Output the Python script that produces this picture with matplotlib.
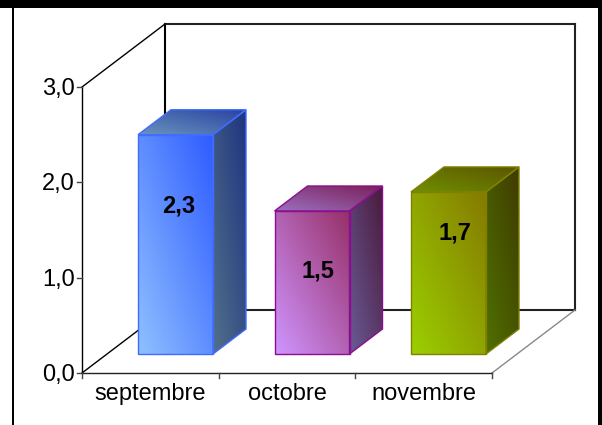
import matplotlib
matplotlib.use('Agg')
import matplotlib.pyplot as plt
from matplotlib.colors import LinearSegmentedColormap
from matplotlib.patches import Polygon
import numpy as np

plt.rcParams['font.family'] = ['Liberation Sans', 'DejaVu Sans']

mois = ['septembre', 'octobre', 'novembre']
valeurs = [2.3, 1.5, 1.7]
etiquettes = ['2,3', '1,5', '1,7']
yticks = [0, 1, 2, 3]
ylabels = ['0,0', '1,0', '2,0', '3,0']

# couleurs des faces: bas-gauche, haut-droite
face_cols = [('#8fc0ff', '#2f5cff'), ('#cf95ff', '#973068'), ('#9bd000', '#857a00')]
cote_cols = [('#52708a', '#1f3580'), ('#6a5a96', '#4a1a3c'), ('#4f7000', '#403c00')]
dessus_cols = [('#6a94bc', '#2a44a4'), ('#9a70c0', '#7c2058'), ('#6f9000', '#5c5400')]
bord_cols = ['#3f6cff', '#8a0f90', '#808000']

# echelle: pixels de la figure -> valeurs
W, H = 602, 425
px_cat = 136.5
px_val = 95.33
x0_px, y0_px = 175.5, 373
larg = 75 / px_cat
dx, dy = 33 / px_cat, 25 / px_val       # profondeur d'une barre
mx, my = 83 / px_cat, 63 / px_val       # profondeur du mur
base = 19 / px_val                      # decalage du pied des barres
gauche = -0.685
droite = gauche + 3 * 136.67 / px_cat
pas = (droite - gauche) / 3

fig = plt.figure(figsize=(W / 100, H / 100), dpi=100)
ax = fig.add_axes([0, 0, 1, 1])
ax.axis('off')


def degrade(pts, cols, edge, ax):
    xs = [p[0] for p in pts]
    ys = [p[1] for p in pts]
    cmap = LinearSegmentedColormap.from_list('c', cols)
    u, v = np.meshgrid(np.linspace(0, 1, 60), np.linspace(0, 1, 60))
    im = ax.imshow((u + v) / 2, extent=[min(xs), max(xs), min(ys), max(ys)], origin='lower',
                   cmap=cmap, vmin=0, vmax=1, aspect='auto', zorder=3)
    poly = Polygon(pts, closed=True, fc='none', ec=edge, lw=1, zorder=4)
    ax.add_patch(poly)
    im.set_clip_path(poly)


# mur et sol
ax.plot([gauche + mx, gauche + mx], [my, 3 + my], color='black', lw=1.5, zorder=1)
ax.plot([droite + mx, droite + mx], [my, 3 + my], color='#222222', lw=1.5, zorder=1)
ax.plot([gauche + mx, droite + mx], [3 + my, 3 + my], color='#222222', lw=1.5, zorder=1)
ax.plot([gauche + mx, droite + mx], [my, my], color='#222222', lw=1.5, zorder=1)
ax.plot([gauche, gauche + mx], [3, 3 + my], color='black', lw=1, zorder=1)
ax.plot([gauche, gauche + mx], [0, my], color='black', lw=1, zorder=1)
ax.plot([droite, droite + mx], [0, my], color='#888888', lw=1, zorder=1)

# axes de face
ax.plot([gauche, gauche], [0, 3], color='black', lw=1, zorder=2)
ax.plot([gauche, droite], [0, 0], color='#222222', lw=1, zorder=2)
for t, lab in zip(yticks, ylabels):
    ax.plot([gauche - 5 / px_cat, gauche], [t, t], color='#444444', lw=1, zorder=2)
    ax.text(gauche - 7 / px_cat, t - 2 / px_val, lab, ha='right', va='center', fontsize=17, color='black')
for i in range(4):
    ax.plot([gauche + i * pas] * 2, [0, -5 / px_val], color='#444444', lw=1, zorder=2)
for i, m in enumerate(mois):
    ax.text(gauche + (i + 0.5) * pas, -21 / px_val, m, ha='center', va='center', fontsize=17, color='black')

# barres
etiq_dx = [3.5, 6, 6.5]
etiq_frac = [0.675, 0.58, 0.745]
for i, v in enumerate(valeurs):
    x1, x2 = i - larg / 2, i + larg / 2
    y1, y2 = base, base + v
    degrade([(x1, y1), (x2, y1), (x2, y2), (x1, y2)], face_cols[i], bord_cols[i], ax)
    degrade([(x2, y1), (x2 + dx, y1 + dy), (x2 + dx, y2 + dy), (x2, y2)], cote_cols[i], bord_cols[i], ax)
    degrade([(x1, y2), (x2, y2), (x2 + dx, y2 + dy), (x1 + dx, y2 + dy)], dessus_cols[i], bord_cols[i], ax)
    ax.text(i + etiq_dx[i] / px_cat, base + v * etiq_frac[i], etiquettes[i], ha='center', va='center',
            fontsize=17, fontweight='bold', color='black', zorder=5)

ax.set_xlim(-x0_px / px_cat, (W - x0_px) / px_cat)
ax.set_ylim((y0_px - H) / px_val, y0_px / px_val)

# cadre noir
fig.add_artist(plt.Rectangle((0, 1 - 8 / H), 1, 8 / H, transform=fig.transFigure, fc='black', ec='none'))
fig.add_artist(plt.Rectangle((12 / W, 0), 2 / W, 1, transform=fig.transFigure, fc='black', ec='none'))
fig.add_artist(plt.Rectangle((598 / W, 0), 4 / W, 1, transform=fig.transFigure, fc='black', ec='none'))

fig.savefig('out.png', dpi=100)
